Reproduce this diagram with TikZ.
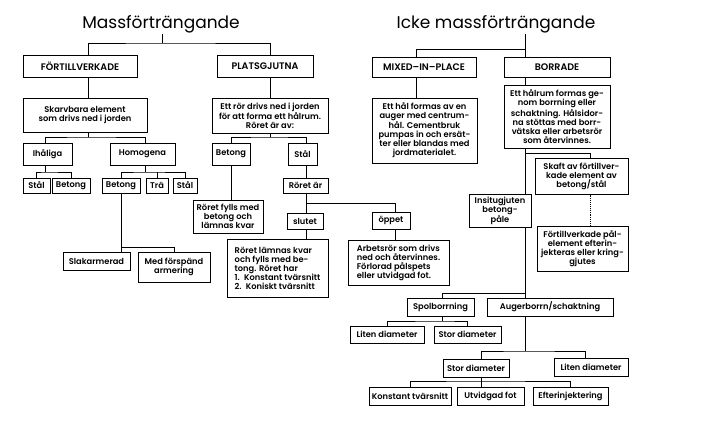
\documentclass[tikz,border=0pt]{standalone}
\usepackage{fontspec}
\setmainfont{Poppins}
\newfontfamily\boxfont{Poppins SemiBold}
\usetikzlibrary{positioning,calc}
\tikzset{
  pbox/.style   = {draw, line width=1pt, align=center, inner sep=1pt, font=\boxfont\fontsize{8.3}{9}\selectfont},
  lbox/.style   = {pbox, align=left},
  capbox/.style = {pbox, font=\boxfont\fontsize{9.5}{10}\selectfont},
  wh/.style 2 args = {minimum width=#1pt, minimum height=#2pt},
  head/.style   = {font=\fontsize{17}{20}\selectfont, inner sep=1pt},
  link/.style   = {line width=0.9pt},
}

\begin{document}
\begin{tikzpicture}[x=1pt,y=-1pt]
  \useasboundingbox[fill=white] (0,0) rectangle (702,439);

  % --- Massförträngande ---
  \node[head] (title1) at (161,24) {Massförträngande};
  \node[capbox, wh={114}{22}] (fort)  at (80,66)    {FÖRTILLVERKADE};
  \node[capbox, wh={96}{22}]  (plats) at (265,66)   {PLATSGJUTNA};
  \node[pbox, wh={124}{34}] (skarv)  at (85,115)   {Skarvbara element\\som drivs ned i jorden};
  \node[pbox, wh={116}{35}] (ettror) at (270,115.5) {Ett rör drivs ned i jorden\\för att forma ett hålrum.\\Röret är av:};
  \node[pbox, wh={49}{22}]  (ihal)   at (47.5,154) {Ihåliga};
  \node[pbox, wh={65}{22}]  (homo)   at (142.5,154) {Homogena};
  \node[pbox, wh={38}{22}]  (betR)   at (231,154)  {Betong};
  \node[pbox, wh={29}{22}]  (stalR)  at (302.5,154) {Stål};
  \node[pbox, wh={27}{15}]  (stalI)  at (36.5,185.5) {Stål};
  \node[pbox, wh={38}{15}]  (betI)   at (71,185.5) {Betong};
  \node[pbox, wh={38}{15}]  (betH)   at (121,185.5) {Betong};
  \node[pbox, wh={22}{15}]  (tra)    at (157,185.5) {Trä};
  \node[pbox, wh={24}{15}]  (stalH)  at (185,185.5) {Stål};
  \node[pbox, wh={45}{15}]  (roret)  at (305.5,185.5) {Röret är};
  \node[pbox, wh={70}{33}]  (fylls)  at (228,216.5) {Röret fylls med\\betong och\\lämnas kvar};
  \node[pbox, wh={36}{16}]  (slutet) at (305,221)  {slutet};
  \node[pbox, wh={38}{17}]  (oppet)  at (391,220.5) {öppet};
  \node[pbox, wh={67}{18}]  (slak)   at (96.5,261) {Slakarmerad};
  \node[pbox, wh={72}{30}]  (med)    at (174,267)  {Med förspänd\\armering};
  \node[lbox, wh={101}{58}] (lamnas) at (277.5,268) {Röret lämnas kvar\\och fylls med be-\\tong. Röret har\\1.\enspace Konstant tvärsnitt\\2.\enspace Koniskt tvärsnitt};
  \node[lbox, wh={101}{45}] (arbets) at (398.5,262.5) {Arbetsrör som drivs\\ned och återvinnes.\\Förlorad pålspets\\eller utvidgad fot.};

  % --- Icke massförträngande ---
  \node[head] (title2) at (496,24) {Icke massförträngande};
  \node[capbox, wh={104}{20}] (mixed) at (424,67)   {MIXED–IN–PLACE};
  \node[capbox, wh={106}{20}] (borr)  at (557,67)   {BORRADE};
  \node[pbox, wh={105}{65}] (etthal) at (424.5,130.5) {Ett hål formas av en\\auger med centrum-\\hål. Cementbruk\\pumpas in och ersät-\\ter eller blandas med\\jordmaterialet.};
  \node[pbox, wh={106}{63}] (hrum)   at (557,116.5) {Ett hålrum formas ge-\\nom borrning eller\\schaktning. Hålsidor-\\na stöttas med borr-\\vätska eller arbetsrör\\som återvinnes.};
  \node[pbox, wh={93}{36}]  (skaft)  at (581.5,176) {Skaft av förtillver-\\kade element av\\betong/stål};
  \node[pbox, wh={91}{45}]  (pal)    at (582.5,248.5) {Förtillverkade pål-\\element efterin-\\jekteras eller kring-\\gjutes};
  \node[pbox, wh={62}{33}]  (insitu) at (500,210.5) {Insitugjuten\\betong-\\påle};
  \node[pbox, wh={67}{18}]  (spol)   at (440.5,307) {Spolborrning};
  \node[pbox, wh={126}{18}] (auger)  at (550,307)  {Augerborrn/schaktning};
  \node[pbox, wh={74}{17}]  (litenS) at (387,334.5) {Liten diameter};
  \node[pbox, wh={67}{17}]  (storS)  at (467.5,334.5) {Stor diameter};
  \node[pbox, wh={66}{18}]  (storA)  at (476,368)  {Stor diameter};
  \node[pbox, wh={74}{18}]  (litenA) at (591,367)  {Liten diameter};
  \node[pbox, wh={82}{18}]  (konst)  at (410,396)  {Konstant tvärsnitt};
  \node[pbox, wh={67}{18}]  (utv)    at (490.5,396) {Utvidgad fot};
  \node[pbox, wh={75}{18}]  (efter)  at (570.5,396) {Efterinjektering};

  % spines and junctions
  \coordinate (sFort)  at (88,0);
  \coordinate (sPlats) at (270,0);
  \coordinate (sIhal)  at (45,0);
  \coordinate (sHomo)  at (145,0);
  \coordinate (sBetR)  at (231,0);
  \coordinate (sStal)  at (306,0);
  \coordinate (sOppet) at (395,0);
  \coordinate (sMix)   at (416,0);
  \coordinate (sBorr)  at (525,0);
  \coordinate (sSkaft) at (590,0);
  \coordinate (sSpol)  at (442,0);
  \coordinate (sStorA) at (481,0);
  \coordinate (m0) at (162,43);
  \coordinate (m1) at (88,137);
  \coordinate (m2) at (270,137);
  \coordinate (m3) at (45,172);
  \coordinate (m4) at (145,172);
  \coordinate (m5) at (121,247);
  \coordinate (m6) at (306,203);
  \coordinate (n0) at (525,49);
  \coordinate (n1) at (525,153);
  \coordinate (n2) at (525,293);
  \coordinate (n3) at (442,321);
  \coordinate (n4) at (525,351);
  \coordinate (n5) at (481,381);

  % left tree
  \draw[link] (title1.south -| m0) -- (m0);
  \draw[link] (fort.north -| sFort) |- (m0) -| (plats.north -| sPlats);
  \draw[link] (fort.south -| sFort) -- (skarv.north -| sFort);
  \draw[link] (plats.south -| sPlats) -- (ettror.north -| sPlats);
  \draw[link] (skarv.south -| m1) -- (m1);
  \draw[link] (ihal.north -| sIhal) |- (m1) -| (homo.north -| sHomo);
  \draw[link] (ettror.south -| m2) -- (m2);
  \draw[link] (betR.north -| sBetR) |- (m2) -| (stalR.north -| sStal);
  \draw[link] (ihal.south -| m3) -- (m3);
  \draw[link] (stalI.north) |- (m3) -| (betI.north);
  \draw[link] (homo.south -| m4) -- (m4);
  \draw[link] (betH.north) |- (m4) -| (stalH.north);
  \draw[link] (tra.north) -- (tra.north |- m4);
  \draw[link] (betH.south) -- (slak.north -| betH.south);
  \draw[link] (m5) -| (med.north);
  \draw[link] (betR.south -| sBetR) -- (fylls.north -| sBetR);
  \draw[link] (stalR.south -| sStal) -- (roret.north -| sStal);
  \draw[link] (roret.south -| sStal) -- (slutet.north -| sStal);
  \draw[link] (m6) -| (oppet.north -| sOppet);
  \draw[link] (slutet.south -| sStal) -- (lamnas.north -| sStal);
  \draw[link] (oppet.south -| sOppet) -- (arbets.north -| sOppet);

  % right tree
  \draw[link] (title2.south -| sBorr) -- (borr.north -| sBorr);
  \draw[link] (n0) -| (mixed.north -| sMix);
  \draw[link] (mixed.south -| sMix) -- (etthal.north -| sMix);
  \draw[link] (borr.south -| sBorr) -- (hrum.north -| sBorr);
  \draw[link] (hrum.south -| sBorr) -- (insitu.north -| sBorr);
  \draw[link] (n1) -| (skaft.north -| sSkaft);
  \draw[link, densely dotted] (skaft.south -| sSkaft) -- (pal.north -| sSkaft);
  \draw[link] (insitu.south -| sBorr) -- (auger.north -| sBorr);
  \draw[link] (n2) -| (spol.north -| sSpol);
  \draw[link] (spol.south -| sSpol) -- (n3);
  \draw[link] (litenS.north) |- (n3) -| (storS.north);
  \draw[link] (auger.south -| sBorr) -- (n4);
  \draw[link] (storA.north -| sStorA) |- (n4) -| ([xshift=-6pt]litenA.north);
  \draw[link] (storA.south -| sStorA) -- (utv.north -| sStorA);
  \draw[link] (konst.north) |- (n5) -| (efter.north);
\end{tikzpicture}
\end{document}
